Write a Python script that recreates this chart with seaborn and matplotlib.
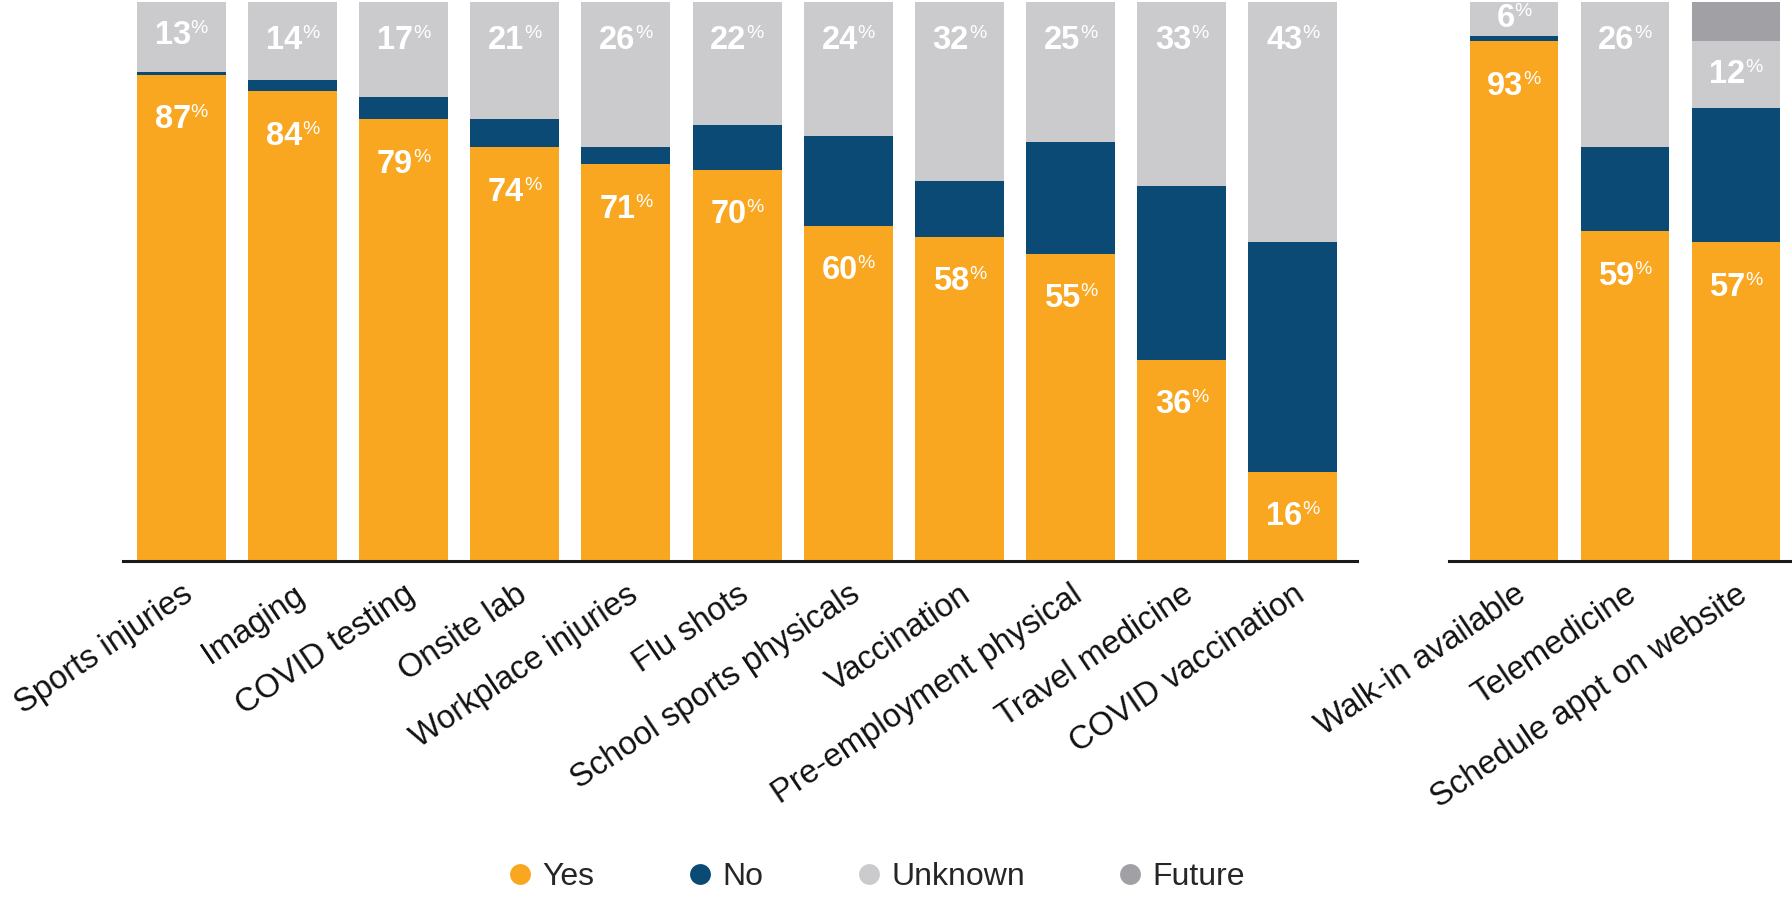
import matplotlib
matplotlib.use("Agg")
import matplotlib.pyplot as plt
from matplotlib.lines import Line2D
from matplotlib.offsetbox import TextArea, HPacker, AnnotationBbox
import numpy as np
import pandas as pd
import seaborn as sns

# Services offered (left panel)
left_cats = ["Sports injuries", "Imaging", "COVID testing", "Onsite lab",
             "Workplace injuries", "Flu shots", "School sports physicals",
             "Vaccination", "Pre-employment physical", "Travel medicine",
             "COVID vaccination"]
left_yes = [87, 84, 79, 74, 71, 70, 60, 58, 55, 36, 16]
left_no = [0.5, 2, 4, 5, 3, 8, 16, 10, 20, 31, 41]
left_unknown = [13, 14, 17, 21, 26, 22, 24, 32, 25, 33, 43]
left_future = [0, 0, 0, 0, 0, 0, 0, 0, 0, 0, 0]

# Access options (right panel)
right_cats = ["Walk-in available", "Telemedicine", "Schedule appt on website"]
right_yes = [93, 59, 57]
right_no = [1, 15, 24]
right_unknown = [6, 26, 12]
right_future = [0, 0, 7]

series_names = ["Yes", "No", "Unknown", "Future"]
colors = {"Yes": "#F9A620", "No": "#0A4A74", "Unknown": "#CBCBCE", "Future": "#A0A0A5"}

sns.set_theme(style="white")
plt.rcParams["font.family"] = ["Liberation Sans", "DejaVu Sans"]

fig = plt.figure(figsize=(17.92, 8.97), dpi=100)
ax_left = fig.add_axes([0.0686, 0.3746, 0.6886, 0.6232])
ax_right = fig.add_axes([0.8086, 0.3746, 0.1914, 0.6232])


def pct_label(ax, x, y, value, dy):
    num = TextArea(f"{value:g}", textprops=dict(color="white", fontsize=23.5,
                                                 fontweight="bold"))
    sign = TextArea("%", textprops=dict(color="white", fontsize=14))
    box = HPacker(children=[num, sign], align="top", pad=0, sep=0)
    ab = AnnotationBbox(box, (x, y), xybox=(0, -dy), xycoords="data",
                        boxcoords="offset pixels", frameon=False,
                        box_alignment=(0.5, 0.5), annotation_clip=False)
    ax.add_artist(ab)


def draw_panel(ax, cats, yes, no, unknown, future, xlim):
    df = pd.DataFrame({"cat": cats, "Yes": yes, "No": no,
                       "Unknown": unknown, "Future": future})
    cum = df[series_names].cumsum(axis=1)
    # Overlapping bars drawn from the tallest cumulative total down
    for name in reversed(series_names):
        sns.barplot(data=cum.assign(cat=df["cat"]), x="cat", y=name,
                    order=cats, color=colors[name], saturation=1,
                    width=0.8, linewidth=0, ax=ax)
    ax.set_xlim(*xlim)
    ax.set_ylim(0, 100)
    ax.set_yticks([])
    ax.set_ylabel("")
    ax.set_xlabel("")
    for s in ["left", "top", "right"]:
        ax.spines[s].set_visible(False)
    ax.spines["bottom"].set_linewidth(2.2)
    ax.spines["bottom"].set_color("#1a1a1a")
    ax.tick_params(axis="x", length=0, pad=13)
    ax.set_xticks(range(len(cats)))
    ax.set_xticklabels(cats, rotation=34, ha="right", va="top",
                       rotation_mode="anchor", fontsize=23.5, color="#111111")

    px_per_unit = (ax.transData.transform((0, 1))[1]
                   - ax.transData.transform((0, 0))[1])
    for i in range(len(cats)):
        pct_label(ax, i, yes[i], yes[i], 45)
        top_unknown = yes[i] + no[i] + unknown[i]
        dy = min(39, unknown[i] * px_per_unit / 2)
        pct_label(ax, i, top_unknown, unknown[i], dy)


draw_panel(ax_left, left_cats, left_yes, left_no, left_unknown, left_future,
           (-0.525, 10.576))
draw_panel(ax_right, right_cats, right_yes, right_no, right_unknown,
           right_future, (-0.587, 2.505))

handles = [Line2D([0], [0], marker="o", linestyle="none", markersize=15,
                  markerfacecolor=colors[n], markeredgewidth=0, label=n)
           for n in series_names]
fig.legend(handles=handles, loc="center", bbox_to_anchor=(0.489, 0.022),
           ncol=4, frameon=False, fontsize=23, handlelength=0.8,
           handletextpad=0.3, columnspacing=2.9)

fig.savefig("out.png", dpi=100)
